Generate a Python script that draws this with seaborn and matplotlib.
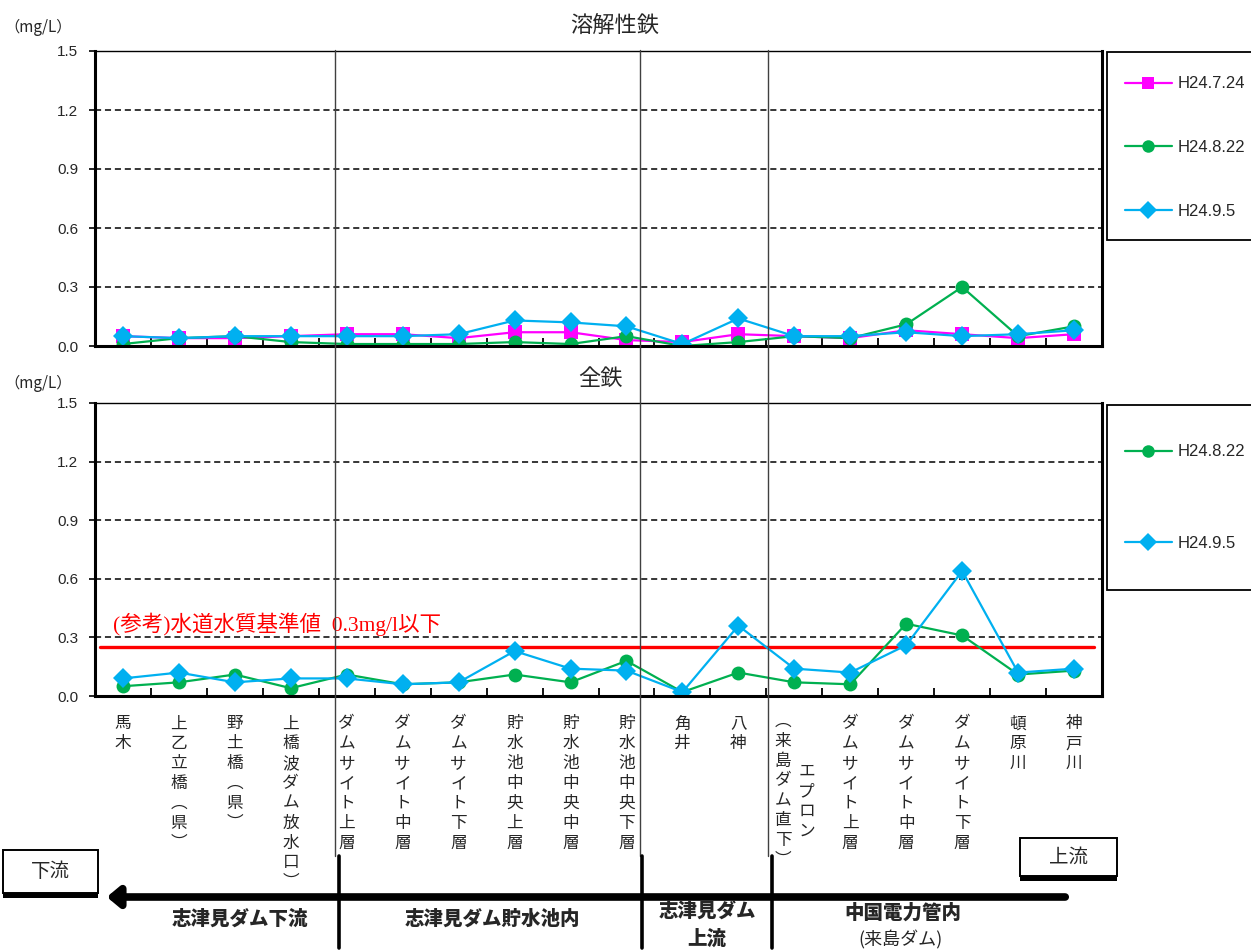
import numpy as np
import pandas as pd
import matplotlib
matplotlib.use("Agg")
import matplotlib.pyplot as plt
import seaborn as sns
from matplotlib.lines import Line2D
from matplotlib.patches import Rectangle, FancyArrowPatch
from matplotlib.transforms import blended_transform_factory

# ---------------- data ----------------
sites = ["馬木", "上乙立橋︵県︶", "野土橋︵県︶", "上橋波ダム放水口︶",
         "ダムサイト上層", "ダムサイト中層", "ダムサイト下層",
         "貯水池中央上層", "貯水池中央中層", "貯水池中央下層",
         "角井", "八神", "エプロン", "ダムサイト上層", "ダムサイト中層",
         "ダムサイト下層", "頓原川", "神戸川"]

dates_top = ["H24.7.24", "H24.8.22", "H24.9.5"]
dates_bottom = ["H24.8.22", "H24.9.5"]

# 溶解性鉄 (mg/L)
dissolved_0724 = [0.05, 0.04, 0.04, 0.05, 0.06, 0.06, 0.04, 0.07, 0.07, 0.03,
                  0.02, 0.06, 0.05, 0.04, 0.08, 0.06, 0.04, 0.06]
dissolved_0822 = [0.01, 0.04, 0.05, 0.02, 0.01, 0.01, 0.01, 0.02, 0.01, 0.05,
                  0.00, 0.02, 0.05, 0.04, 0.11, 0.30, 0.05, 0.10]
dissolved_0905 = [0.05, 0.04, 0.05, 0.05, 0.05, 0.05, 0.06, 0.13, 0.12, 0.10,
                  0.01, 0.14, 0.05, 0.05, 0.07, 0.05, 0.06, 0.08]

# 全鉄 (mg/L)
total_0822 = [0.05, 0.07, 0.11, 0.04, 0.11, 0.06, 0.07, 0.11, 0.07, 0.18,
              0.02, 0.12, 0.07, 0.06, 0.37, 0.31, 0.11, 0.13]
total_0905 = [0.09, 0.12, 0.07, 0.09, 0.09, 0.06, 0.07, 0.23, 0.14, 0.13,
              0.02, 0.36, 0.14, 0.12, 0.26, 0.64, 0.12, 0.14]

standard_line = 0.25
yticks = [0.0, 0.3, 0.6, 0.9, 1.2, 1.5]

colors = {"H24.7.24": "#FF00FF", "H24.8.22": "#00B050", "H24.9.5": "#00B0F0"}
markers = {"H24.7.24": "s", "H24.8.22": "o", "H24.9.5": "D"}

idx = np.arange(len(sites))
df_top = pd.DataFrame({
    "site": np.tile(idx, 3),
    "value": dissolved_0724 + dissolved_0822 + dissolved_0905,
    "date": np.repeat(dates_top, len(sites)),
})
df_bot = pd.DataFrame({
    "site": np.tile(idx, 2),
    "value": total_0822 + total_0905,
    "date": np.repeat(dates_bottom, len(sites)),
})

# ---------------- style ----------------
sns.set_theme(style="white")
plt.rcParams["font.family"] = ["Liberation Sans", "Noto Sans CJK JP", "DejaVu Sans"]
CJK = ["Noto Sans CJK JP", "DejaVu Sans"]

W, H = 1251, 951
fig = plt.figure(figsize=(W / 100, H / 100), dpi=100)

def fx(px):
    return px / W

def fy(py):
    return 1 - py / H

ax1 = fig.add_axes([fx(95), fy(346), fx(1102) - fx(95), fy(51) - fy(346)])
ax2 = fig.add_axes([fx(95), fy(696), fx(1102) - fx(95), fy(403) - fy(696)])

def style_axis(ax):
    ax.set_xlim(-0.5, len(sites) - 0.5)
    ax.set_ylim(0, 1.5)
    ax.set_yticks(yticks)
    ax.set_yticklabels([f"{v:.1f}" for v in yticks], fontsize=11)
    for v in yticks[1:-1]:
        ax.axhline(v, color="black", lw=1.1, ls=(0, (4, 2.5)), zorder=0)
    for s in ax.spines.values():
        s.set_color("black")
        s.set_linewidth(1.0)
    ax.spines["left"].set_linewidth(2.2)
    ax.spines["bottom"].set_linewidth(2.2)
    ax.spines["right"].set_linewidth(2.2)
    ax.set_xticks(idx)
    ax.set_xticks(idx[:-1] + 0.5, minor=True)
    ax.tick_params(axis="x", which="major", length=0)
    ax.tick_params(axis="x", which="minor", direction="in", length=6, width=1.3,
                   color="black", bottom=True)
    ax.tick_params(axis="y", which="major", direction="out", length=4, width=1.2,
                   color="black", left=True, pad=8)
    ax.set_xlabel("")
    ax.set_ylabel("")

# top chart
sns.lineplot(data=df_top, x="site", y="value", hue="date", style="date",
             hue_order=dates_top, style_order=dates_top,
             palette=colors, markers=markers, dashes=False, sort=False,
             lw=1.6, markersize=10, markeredgewidth=0, ax=ax1, legend=False)
style_axis(ax1)
ax1.set_xticklabels([""] * len(sites))
fig.text(fx(615), fy(25), "溶解性鉄", fontsize=16, family=CJK, ha="center", va="center")

# bottom chart
sns.lineplot(data=df_bot, x="site", y="value", hue="date", style="date",
             hue_order=dates_bottom, style_order=dates_bottom,
             palette=colors, markers=markers, dashes=False, sort=False,
             lw=1.6, markersize=10, markeredgewidth=0, ax=ax2, legend=False)
style_axis(ax2)
fig.text(fx(600), fy(378), "全鉄", fontsize=16, family=CJK, ha="center", va="center")
ax2.axhline(standard_line, xmin=0.005, xmax=0.992, color="#FF0000", lw=2.4, zorder=1)
ax2.text(-0.18, 0.333, "(参考)水道水質基準値  0.3mg/l以下", color="#FF0000",
         fontsize=15.5, family=["Liberation Serif", "Noto Sans CJK JP"],
         ha="left", va="baseline")

# vertical x labels
LS = 1.22
labels = []
for i, s in enumerate(sites):
    labels.append("" if s == "エプロン" else "\n".join(list(s)))
ax2.set_xticklabels(labels, family=CJK, fontsize=12, linespacing=LS, va="top")
ax2.tick_params(axis="x", which="major", pad=14)
tr = blended_transform_factory(ax2.transData, fig.transFigure)
ep = sites.index("エプロン")
ax2.text(ep - 0.2, fy(713), "\n".join(list("︵来島ダム直下︶")), transform=tr,
         family=CJK, fontsize=12, linespacing=LS, ha="center", va="top")
ax2.text(ep + 0.22, fy(763), "\n".join(list("エプロン")), transform=tr,
         family=CJK, fontsize=12, linespacing=LS, ha="center", va="top")

# legends (separate frame + frameless legend entries)
def make_legend(dates, box_top, box_bottom, first_y, step_px):
    fig.add_artist(Rectangle((fx(1107), fy(box_bottom)), fx(1262) - fx(1107),
                             fy(box_top) - fy(box_bottom), facecolor="white",
                             edgecolor="black", lw=1.3, transform=fig.transFigure,
                             zorder=0))
    for k, d in enumerate(dates):
        handle = Line2D([0], [0], color=colors[d], marker=markers[d], lw=1.6,
                        markersize=9, markeredgewidth=0)
        yc = first_y + k * step_px
        fig.legend([handle], [d], loc="center left",
                   bbox_to_anchor=(fx(1125), fy(yc)),
                   bbox_transform=fig.transFigure, frameon=False,
                   fontsize=12, handlelength=2.8, handletextpad=0.36,
                   borderpad=0, borderaxespad=0)

make_legend(dates_top, 52, 240, 84, 63.5)
make_legend(dates_bottom, 405, 590, 452, 91)

# (mg/L) labels
fig.text(fx(38), fy(27), "（mg/L）", fontsize=11, family=CJK, ha="center", va="center")
fig.text(fx(38), fy(383), "（mg/L）", fontsize=11, family=CJK, ha="center", va="center")

# section divider lines
for xp in [335, 640, 768]:
    fig.add_artist(Line2D([fx(xp), fx(xp)], [fy(50), fy(856)],
                          color="#404040", lw=1.0, transform=fig.transFigure))
for xp in [339, 642, 772]:
    fig.add_artist(Line2D([fx(xp), fx(xp)], [fy(856), fy(948)],
                          color="black", lw=2.6, transform=fig.transFigure))

# flow arrow
fig.add_artist(FancyArrowPatch(posA=(fx(1068), fy(897)), posB=(fx(104), fy(897)),
                               arrowstyle="-|>,head_length=0.6,head_width=0.5",
                               mutation_scale=12, lw=5.5, color="black",
                               transform=fig.transFigure))

# boxes
def flow_box(x0, y0, x1, y1, text):
    fig.add_artist(Rectangle((fx(x0), fy(y1)), fx(x1) - fx(x0), fy(y0) - fy(y1),
                             facecolor="white", edgecolor="black", lw=1.4,
                             transform=fig.transFigure))
    fig.add_artist(Rectangle((fx(x0), fy(y1 + 5)), fx(x1) - fx(x0), fy(y1) - fy(y1 + 5),
                             facecolor="black", edgecolor="black", lw=0,
                             transform=fig.transFigure))
    fig.text(fx((x0 + x1) / 2), fy((y0 + y1) / 2), text, family=CJK,
             fontsize=14, ha="center", va="center")

flow_box(3, 850, 98, 893, "下流")
flow_box(1020, 838, 1117, 876, "上流")

# section labels
def sec(xp, yp, t, bold=True, size=14):
    fig.text(fx(xp), fy(yp), t, family=CJK, fontsize=size,
             fontweight="heavy" if bold else "normal", ha="center", va="center")

sec(240, 919, "志津見ダム下流")
sec(492, 919, "志津見ダム貯水池内")
sec(707, 911, "志津見ダム")
sec(707, 939, "上流")
sec(903, 913, "中国電力管内")
sec(900, 940, "(来島ダム)", bold=False, size=13)

fig.savefig("out.png", dpi=100)
